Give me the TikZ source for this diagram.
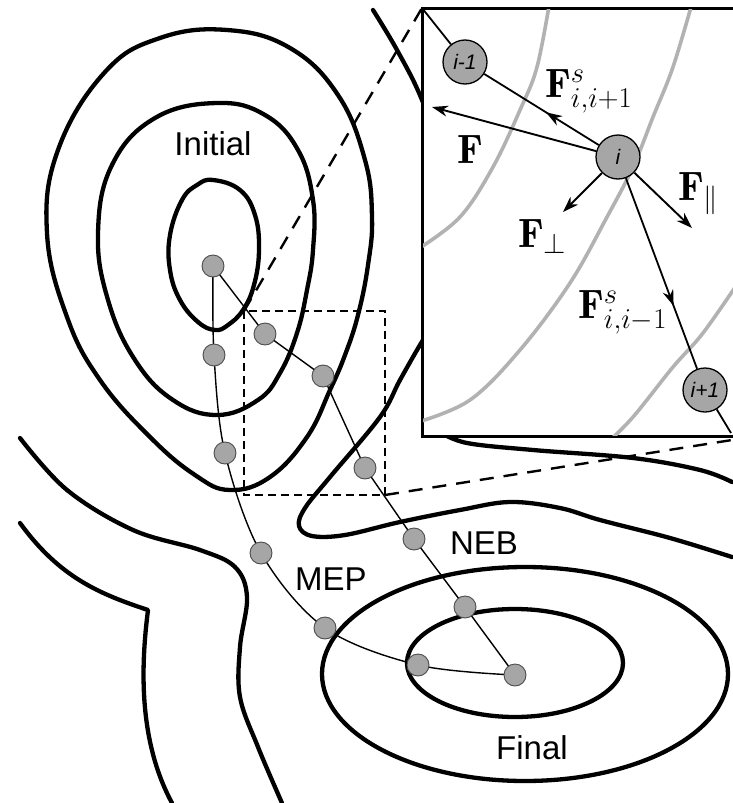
\RequirePackage{fix-cm}
\documentclass[tikz,border=0pt]{standalone}
\usepackage{fontspec}
\newfontfamily\labfont{Liberation Sans}
\usetikzlibrary{arrows.meta,decorations.markings}
\begin{document}
\begin{tikzpicture}[x=1pt,y=-1pt,
  contour/.style={line width=4.3pt, line join=round, line cap=round},
  gcontour/.style={line width=3.6pt, draw=black!30},
  pathline/.style={line width=1.4pt},
  bead/.style={circle, draw=black!70, line width=0.9pt, fill=black!35, minimum size=22pt, inner sep=0pt},
  ibead/.style={circle, draw=black, line width=1.3pt, fill=black!35, minimum size=44pt, inner sep=0pt, font=\labfont\itshape\fontsize{21}{21}\selectfont},
  lab/.style={font=\labfont\fontsize{33}{33}\selectfont, inner sep=0pt},
  mlab/.style={font=\fontsize{41}{48}\selectfont, inner sep=0pt, anchor=base west},
  inline/.style={line width=1.8pt},
  force/.style={line width=1.9pt, -{Stealth[length=16pt,width=11pt]}},
  midarrow/.style={postaction={decorate}, decoration={markings, mark=at position #1 with {\arrow{Stealth[length=16pt,width=11pt]}}}},
  zoomrect/.style={line width=2.4pt, dash pattern=on 8pt off 5pt},
  zoomline/.style={line width=2.4pt, dash pattern=on 14pt off 10pt}
]
\useasboundingbox (0,0) rectangle (732,803);

% ---- main contours ----
\draw[contour] plot[smooth cycle, tension=0.7] coordinates {(213,180) (240,190) (255,215) (259,250) (254,285) (243,310) (228,325) (215,330) (198,322) (180,300) (170,270) (170,235) (182,200) (197,185)};
\draw[contour] plot[smooth cycle, tension=0.7] coordinates {(217,103) (265,115) (298,150) (313,200) (313,250) (307,290) (297,333) (280,373) (258,400) (217,415) (173,400) (135,360) (108,300) (98,233) (112,165) (155,118)};
\draw[contour] plot[smooth cycle, tension=0.7] coordinates {(227,30) (290,48) (338,95) (365,160) (372,217) (368,265) (358,315) (345,355) (330,390) (307,437) (270,477) (230,490) (195,475) (150,437) (100,380) (67,317) (47,233) (58,150) (105,72) (160,38)};
\draw[contour] plot[smooth, tension=0.6] coordinates {(373,10) (397,50) (422,100) (450,180) (455,260) (440,315) (423,340) (400,380) (380,417) (330,477) (305,508) (299,526) (312,536) (345,535) (400,522) (460,510) (510,502) (560,508) (600,520) (670,538) (732,557)};
\draw[contour] plot[smooth, tension=0.6] coordinates {(440,432) (467,443) (533,450) (633,458) (700,470) (732,482)};
\draw[contour] plot[smooth, tension=0.6] coordinates {(20,438) (67,490) (133,530) (200,550) (235,567) (247,597) (240,647) (240,697) (258,747) (282,803)};
\draw[contour] (20,523) .. controls (60,578) and (100,594) .. (148,610) .. controls (141,665) and (138,740) .. (172,803);
\draw[contour] (515,663) ellipse [x radius=108pt, y radius=54pt];
\draw[contour] (525,674) ellipse [x radius=203pt, y radius=107pt];

% ---- bead positions ----
\coordinate (c0) at (213,266);
\coordinate (cm1) at (214,355);
\coordinate (cm2) at (225,453);
\coordinate (cm3) at (261,553);
\coordinate (cm4) at (325,628);
\coordinate (cm5) at (418,665);
\coordinate (cf) at (515,675);
\coordinate (cq1) at (265,334);
\coordinate (cq2) at (323,376);
\coordinate (cq3) at (365,468);
\coordinate (cq4) at (414,539);
\coordinate (cq5) at (465,607);

\draw[pathline] plot[smooth, tension=0.55] coordinates {(c0) (cm1) (cm2) (cm3) (cm4) (cm5) (cf)};
\draw[pathline] (c0) -- (cq1) -- (cq2) -- (cq3) -- (cq4) -- (cq5) -- (cf);

\foreach \n in {c0,cm1,cm2,cm3,cm4,cm5,cf,cq1,cq2,cq3,cq4,cq5}
  \node[bead] (b-\n) at (\n) {};

% ---- zoom rectangle and connectors ----
\coordinate (rtl) at (244,311);
\coordinate (rbr) at (385,495);
\draw[zoomrect] (rtl) rectangle (rbr);
\coordinate (boxtl) at (422,8);
\coordinate (dend) at (732,440);
\draw[zoomline] (rtl) -- (boxtl);
\draw[zoomline] (rbr) -- (dend);

% ---- labels ----
\node[lab] (initial) at (213,144) {Initial};
\node[lab] (neb) at (484,543) {NEB};
\node[lab] (mep) at (331,579) {MEP};
\node[lab] (final) at (532,748) {Final};

% ---- inset ----
\node[draw, fill=white, line width=1.8pt, minimum width=314pt, minimum height=427pt, anchor=north west, inner sep=0pt] (inset) at (boxtl) {};
\begin{scope}
  \clip (inset.south west) rectangle (inset.north east);
  \draw[gcontour] plot[smooth, tension=0.6] coordinates {(550,0) (537,67) (520,110) (493,167) (460,217) (418,249)};
  \draw[gcontour] plot[smooth, tension=0.6] coordinates {(693,0) (673,67) (653,117) (633,167) (607,217) (570,283) (520,350) (470,400) (418,422)};
  \draw[gcontour] plot[smooth, tension=0.6] coordinates {(740,280) (703,333) (673,367) (633,417) (605,445)};
\end{scope}
\draw[line width=1.8pt] (inset.south west) rectangle (inset.north east);

\coordinate (cim1) at (465,62);
\coordinate (cii) at (618,157);
\coordinate (cip1) at (705,390);
\coordinate (lend) at (731,433);
\node[ibead] (im1) at (cim1) {i-1};
\node[ibead] (ii) at (cii) {i};
\node[ibead] (ip1) at (cip1) {i+1};

\draw[inline] (inset.north west) -- (im1);
\draw[inline, midarrow=0.46] (ii) -- (im1);
\draw[inline, midarrow=0.67] (ii) -- (ip1);
\draw[inline] (ip1) -- (lend);

\coordinate (fF) at (432,107);
\coordinate (fperp) at (563,212);
\coordinate (fpar) at (692,228);
\draw[force] (ii) -- (fF);
\draw[force] (ii) -- (fperp);
\draw[force] (ii) -- (fpar);

\node[mlab] (lFs1) at (545,97) {$\mathbf{F}^{s}_{i,i+1}$};
\node[mlab] (lF) at (457,163) {$\mathbf{F}$};
\node[mlab] (lFperp) at (518,247) {$\mathbf{F}_{\perp}$};
\node[mlab] (lFpar) at (678,200) {$\mathbf{F}_{\parallel}$};
\node[mlab] (lFs2) at (578,318) {$\mathbf{F}^{s}_{i,i-1}$};
\end{tikzpicture}
\end{document}
